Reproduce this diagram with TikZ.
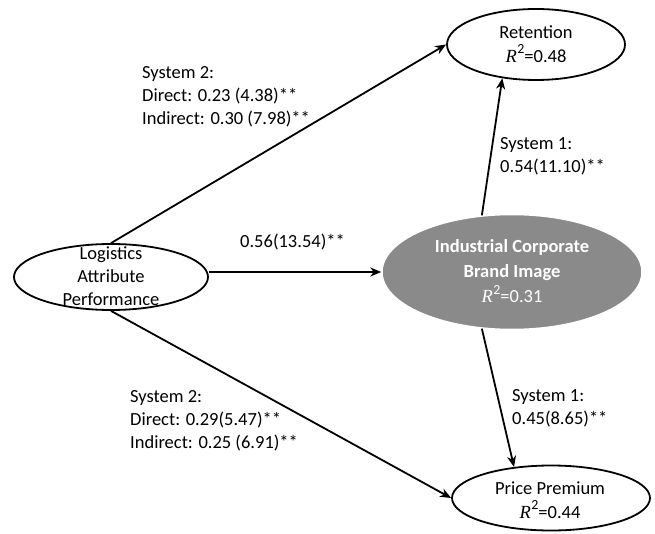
\documentclass[tikz,border=0pt]{standalone}
\usepackage{fontspec}
\setmainfont{Carlito}
\newfontfamily\rfont{Liberation Serif}
\newcommand{\Rsq}{{\rfont\itshape R}\kern0.5pt\raisebox{0.45em}{\scalebox{0.75}{2}}}
\usetikzlibrary{shapes.geometric,arrows.meta}
\definecolor{brandgray}{RGB}{138,138,138}
\begin{document}
\begin{tikzpicture}[x=1pt,y=-1pt,
  lat/.style={ellipse,draw=black,line width=1.8pt,inner sep=0pt},
  txt/.style={align=center,inner sep=0pt,font=\fontsize{18.5}{23}\selectfont},
  lbl/.style={align=left,anchor=west,inner sep=0pt,font=\fontsize{18.5}{23}\selectfont},
  arr/.style={line width=1.8pt,-{Stealth[length=11pt,width=9pt]}}]
\useasboundingbox (0,0) rectangle (655,534);
\fill[white] (0,0) rectangle (655,534);
% ellipses
\node[lat,minimum width=194pt,minimum height=66pt] (logi) at (111,277) {};
\node[lat,minimum width=178pt,minimum height=71pt] (ret) at (536,44.5) {};
\node[ellipse,fill=brandgray,draw=white,line width=1.5pt,inner sep=0pt,minimum width=260pt,minimum height=115pt] (brand) at (512,272) {};
\node[lat,minimum width=198pt,minimum height=65pt] (price) at (551,498) {};
% texts
\node[txt] (logit) at (111,276) {Logistics\\Attribute\\Performance};
\node[txt,font=\fontsize{18.5}{24}\selectfont] (rett) at (536,44) {Retention\\\Rsq=0.48};
\node[txt,text=white,font=\fontsize{18.5}{25}\selectfont] (brandt) at (512,271) {\textbf{Industrial Corporate}\\\textbf{Brand Image}\\\Rsq=0.31};
\node[txt,font=\fontsize{18.5}{24}\selectfont] (pricet) at (550,500) {Price Premium\\\Rsq=0.44};
% connectors
\draw[arr] (logi.north) -- (ret.west);
\draw[arr] (logi.east |- brand.west) -- (brand.west);
\draw[arr] (logi.south) -- (price.west);
\draw[arr] (brand.118) -- (ret.225);
\draw[arr] (brand.242) -- (price.140);
% labels
\node[lbl] (l1) at (142,97) {System 2:\\Direct: 0.23 (4.38)**\\Indirect: 0.30 (7.98)**};
\node[lbl] (l2) at (240,242) {0.56(13.54)**};
\node[lbl] (l3) at (500,156.5) {System 1:\\0.54(11.10)**};
\node[lbl] (l4) at (512,408.5) {System 1:\\0.45(8.65)**};
\node[lbl] (l5) at (130,421) {System 2:\\Direct: 0.29(5.47)**\\Indirect: 0.25 (6.91)**};
\end{tikzpicture}
\end{document}
